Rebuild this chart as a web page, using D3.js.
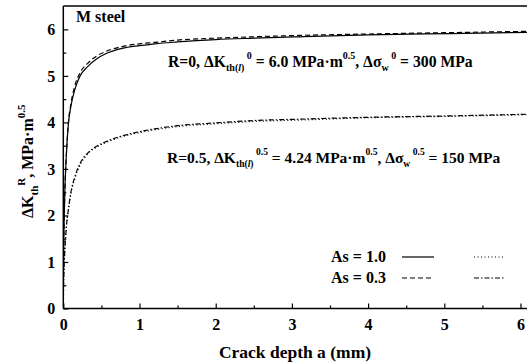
<!DOCTYPE html>
<html><head><meta charset="utf-8">
<script src="https://cdn.jsdelivr.net/npm/d3@7"></script>
<style>body{margin:0;background:#fff}svg{display:block}</style>
</head><body><svg id="c" width="527" height="364"></svg>
<script>
// Data
const crackDepth = [0, 0.005, 0.01, 0.02, 0.04, 0.066, 0.1, 0.15, 0.22, 0.32, 0.45, 0.55, 0.77, 1.0, 1.2, 1.5, 2.0, 2.5, 3.1, 4.0, 5.07, 6.2];
const kR0As10  = [0, 1.3, 1.8, 2.5, 3.3, 3.95, 4.35, 4.70, 5.00, 5.20, 5.38, 5.47, 5.59, 5.65, 5.69, 5.73, 5.78, 5.81, 5.84, 5.88, 5.91, 5.94];
const kR0As03  = [0, 1.3, 1.8, 2.5, 3.3, 3.98, 4.40, 4.78, 5.07, 5.27, 5.44, 5.52, 5.63, 5.69, 5.72, 5.77, 5.81, 5.84, 5.87, 5.90, 5.93, 5.96];
const kR05As10 = [0, 0.65, 0.9, 1.25, 1.75, 2.10, 2.47, 2.78, 3.08, 3.32, 3.48, 3.56, 3.69, 3.78, 3.84, 3.91, 3.97, 4.02, 4.05, 4.10, 4.13, 4.17];
const kR05As03 = [0, 0.65, 0.9, 1.25, 1.75, 2.12, 2.50, 2.82, 3.12, 3.34, 3.50, 3.58, 3.71, 3.80, 3.86, 3.93, 3.99, 4.04, 4.07, 4.11, 4.14, 4.18];
const xTicks = [0, 1, 2, 3, 4, 5, 6];
const yTicks = [0, 1, 2, 3, 4, 5, 6];
const xMinor = [0.5, 1.5, 2.5, 3.5, 4.5, 5.5];
const yMinor = [0.5, 1.5, 2.5, 3.5, 4.5, 5.5];

const FONT = "Liberation Serif";
const svg = d3.select("#c");
const x = d3.scaleLinear().domain([0, 6]).range([63.3, 520.5]);
const y = d3.scaleLinear().domain([0, 6.5]).range([308.5, 6.1]);
const xRight = 540;

svg.append("clipPath").attr("id","pc").append("rect")
  .attr("x", x(0)).attr("y", y(6.5)).attr("width", xRight - x(0)).attr("height", y(0)-y(6.5));

const series = [
  {v: kR0As10, dash: null},
  {v: kR0As03, dash: "5,3"},
  {v: kR05As10, dash: "1,2.5"},
  {v: kR05As03, dash: "5,2,1.5,2"}
];
const line = d3.line().x((d,i)=>x(crackDepth[i])).y(d=>y(d)).curve(d3.curveMonotoneX);
const g = svg.append("g").attr("clip-path","url(#pc)");
series.forEach(s=>{
  g.append("path").attr("d", line(s.v)).attr("fill","none").attr("stroke","#000")
   .attr("stroke-width",1.2).attr("stroke-dasharray", s.dash);
});

function styleText(sel, size){
  sel.attr("font-family", FONT).attr("font-weight","bold").attr("font-size", size).attr("fill","#000");
  return sel;
}

// frame
svg.append("line").attr("x1",x(0)).attr("x2",xRight).attr("y1",y(6.5)).attr("y2",y(6.5)).attr("stroke","#000").attr("stroke-width",1.5);
// axes
const xAxis = d3.axisBottom(x).tickValues(xTicks).tickSizeInner(-5).tickSizeOuter(0).tickPadding(10).tickFormat(d3.format("d"));
const xa = svg.append("g").attr("transform",`translate(0,${y(0)})`).call(xAxis);
xa.select(".domain").remove();
xa.attr("font-family", null).attr("font-size", null);
styleText(xa.selectAll("text"), 16);
xa.selectAll("line").attr("stroke-width",1.2);
const xm = d3.axisBottom(x).tickValues(xMinor).tickSizeInner(-3).tickSizeOuter(0).tickFormat("");
const xmg = svg.append("g").attr("transform",`translate(0,${y(0)})`).call(xm);
xmg.select(".domain").remove(); xmg.selectAll("line").attr("stroke-width",1.2);
svg.append("line").attr("x1",x(0)).attr("x2",xRight).attr("y1",y(0)).attr("y2",y(0)).attr("stroke","#000").attr("stroke-width",1.5);

const yAxis = d3.axisLeft(y).tickValues(yTicks).tickSizeInner(-5).tickSizeOuter(0).tickPadding(8).tickFormat(d3.format("d"));
const ya = svg.append("g").attr("transform",`translate(${x(0)},0)`).call(yAxis);
ya.select(".domain").remove();
ya.attr("font-family", null).attr("font-size", null);
styleText(ya.selectAll("text"), 16);
ya.selectAll("line").attr("stroke-width",1.2);
const ym = d3.axisLeft(y).tickValues(yMinor).tickSizeInner(-3).tickSizeOuter(0).tickFormat("");
const ymg = svg.append("g").attr("transform",`translate(${x(0)},0)`).call(ym);
ymg.select(".domain").remove(); ymg.selectAll("line").attr("stroke-width",1.2);
svg.append("line").attr("x1",x(0)).attr("x2",x(0)).attr("y1",y(6.5)).attr("y2",y(0)).attr("stroke","#000").attr("stroke-width",1.5);

// rich text helper
function rich(sel, parts, base, small, subOff, supOff){
  let cur = 0;
  parts.forEach(p=>{
    const [t, type, italic] = p;
    let target = 0;
    if(type==="sub") target = subOff;
    if(type==="sup") target = -supOff;
    const ts = sel.append("tspan").attr("dy", target - cur).text(t)
      .attr("font-size", type==="n" ? base : small);
    if(italic) ts.attr("font-style","italic");
    cur = target;
  });
}

styleText(svg.append("text").attr("x",76).attr("y",22).text("M steel"), 16);

const t1 = styleText(svg.append("text").attr("x",168).attr("y",67), 15.7);
rich(t1, [["R=0, ΔK","n"],["th(","sub"],["l","sub",true],[")","sub"],[" 0","sup"],[" = 6.0 MPa·m","n"],["0.5","sup"],[", Δσ","n"],["w","sub"],[" 0","sup"],[" = 300 MPa","n"]], 15.7, 10, 4, 8);

const t2 = styleText(svg.append("text").attr("x",167).attr("y",163), 15.5);
rich(t2, [["R=0.5, ΔK","n"],["th(","sub"],["l","sub",true],[")","sub"],[" 0.5","sup"],[" = 4.24 MPa·m","n"],["0.5","sup"],[", Δσ","n"],["w","sub"],[" 0.5","sup"],[" = 150 MPa","n"]], 15.5, 9.6, 4, 8);

// legend
const legend = [
  {label:"As = 1.0", y:262, d1:null, d2:"1,2.5"},
  {label:"As = 0.3", y:283, d1:"5,3", d2:"5,2,1.5,2"}
];
legend.forEach(l=>{
  styleText(svg.append("text").attr("x",331).attr("y",l.y).text(l.label), 16);
  svg.append("line").attr("x1",402).attr("x2",434).attr("y1",l.y-5).attr("y2",l.y-5).attr("stroke","#000").attr("stroke-width",1.2).attr("stroke-dasharray",l.d1);
  svg.append("line").attr("x1",474).attr("x2",505).attr("y1",l.y-5).attr("y2",l.y-5).attr("stroke","#000").attr("stroke-width",1.2).attr("stroke-dasharray",l.d2);
});

// axis titles
styleText(svg.append("text").attr("x",295).attr("y",358).attr("text-anchor","middle").text("Crack depth a (mm)"), 17.5);
const yt = styleText(svg.append("text").attr("transform","translate(33,218) rotate(-90)"), 16);
rich(yt, [["ΔK","n"],["th","sub"],["R","sup"],[", MPa·m","n"],["0.5","sup"]], 16, 11, 5, 8);
</script></body></html>
